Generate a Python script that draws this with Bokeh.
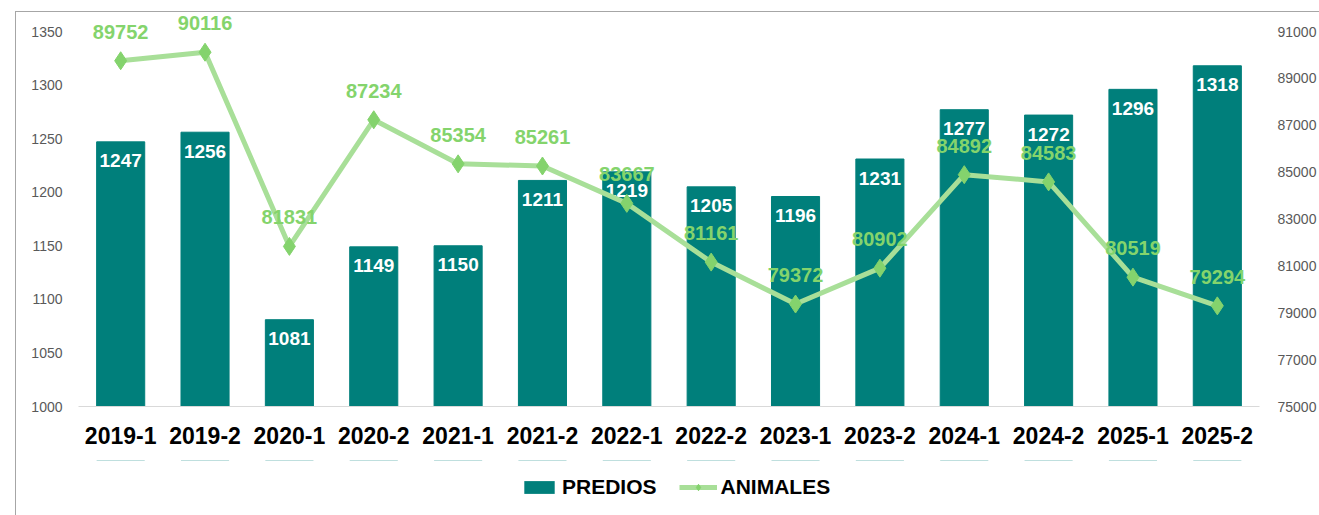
from bokeh.plotting import figure
from bokeh.layouts import column
from bokeh.models import (Range1d, LinearAxis, FixedTicker, Legend, LegendItem,
                          FactorRange, ColumnDataSource, InlineStyleSheet)
from bokeh.core.properties import value
from bokeh.embed import file_html
from bokeh.resources import INLINE

periodos = ["2019-1", "2019-2", "2020-1", "2020-2", "2021-1", "2021-2", "2022-1",
            "2022-2", "2023-1", "2023-2", "2024-1", "2024-2", "2025-1", "2025-2"]
predios = [1247, 1256, 1081, 1149, 1150, 1211, 1219, 1205, 1196, 1231, 1277, 1272, 1296, 1318]
animales = [89752, 90116, 81831, 87234, 85354, 85261, 83667, 81161, 79372, 80902,
            84892, 84583, 80519, 79294]
predios_ticks = [1000, 1050, 1100, 1150, 1200, 1250, 1300, 1350]
animales_ticks = [75000, 77000, 79000, 81000, 83000, 85000, 87000, 89000, 91000]

FONT = "Liberation Sans"
BAR = "#007F7B"
LINE = "#A8DF98"
MARK = "#84D36D"
LABEL_G = "#84D46C"

# frame extends 19px above the top tick so that labels near the top are not clipped
TOP_PAD_PX = 19
PX_LEFT = (1350 - 1000) / 375.0
PX_RIGHT = (91000 - 75000) / 375.0

src = ColumnDataSource(dict(
    x=periodos, predios=predios, animales=animales,
    pl=[str(v) for v in predios], al=[str(v) for v in animales]))

xr = FactorRange(*periodos)
p = figure(x_range=xr,
           y_range=Range1d(1000, 1350 + TOP_PAD_PX * PX_LEFT),
           width=1319, height=460, output_backend="svg", toolbar_location=None,
           min_border_left=78, min_border_right=57, min_border_top=12,
           min_border_bottom=54)
p.extra_y_ranges = {"an": Range1d(75000, 91000 + TOP_PAD_PX * PX_RIGHT)}
p.outline_line_color = None
p.xgrid.visible = False
p.ygrid.visible = False

# left axis
ly = p.yaxis[0]
ly.ticker = FixedTicker(ticks=predios_ticks)
ly.axis_line_color = None
ly.major_tick_line_color = None
ly.minor_tick_line_color = None
ly.major_tick_out = 0
ly.major_label_standoff = 16
ly.major_label_text_font = FONT
ly.major_label_text_font_size = "14px"
ly.major_label_text_color = "#595959"

# right axis
ry = LinearAxis(y_range_name="an", ticker=FixedTicker(ticks=animales_ticks))
ry.axis_line_color = None
ry.major_tick_line_color = None
ry.minor_tick_line_color = None
ry.major_tick_out = 0
ry.major_label_standoff = 18
ry.major_label_text_font = FONT
ry.major_label_text_font_size = "14px"
ry.major_label_text_color = "#595959"
p.add_layout(ry, "right")

# x axis
xa = p.xaxis[0]
xa.axis_line_color = "#D9D9D9"
xa.axis_line_width = 1
xa.major_tick_line_color = None
xa.major_tick_out = 0
xa.major_label_standoff = 20
xa.major_label_text_font = FONT
xa.major_label_text_font_size = "23px"
xa.major_label_text_font_style = "bold"
xa.major_label_text_color = "#000000"

p.vbar(x="x", top="predios", bottom=1000, width=0.57, source=src,
       fill_color=BAR, line_color=BAR)
p.text(x="x", y="predios", text="pl", source=src, y_offset=19,
       text_align="center", text_baseline="middle", text_color="white",
       text_font=value(FONT), text_font_size="19px", text_font_style="bold")

p.line(x="x", y="animales", source=src, y_range_name="an",
       line_color=LINE, line_width=5)
p.scatter(x="x", y="animales", source=src, y_range_name="an",
          marker="diamond", size=18, fill_color=MARK, line_color=MARK)
p.text(x="x", y="animales", text="al", source=src, y_range_name="an",
       y_offset=-29, text_align="center", text_baseline="middle",
       text_color=LABEL_G, text_font=value(FONT), text_font_size="20px",
       text_font_style="bold")

# legend strip underneath (series kept out of its view, only the legend shows)
lg = figure(width=1319, height=55, output_backend="svg", toolbar_location=None,
            x_range=xr, y_range=Range1d(0, 1),
            x_axis_location=None, y_axis_location=None,
            min_border_left=78, min_border_right=57, min_border_top=0,
            min_border_bottom=0)
lg.outline_line_color = None
lg.xgrid.visible = False
lg.ygrid.visible = False
lb = lg.vbar(x="x", top="predios", bottom="predios", width=0.57, source=src,
             fill_color=BAR, line_color=None)
ll = lg.line(x="x", y="animales", source=src, line_color=LINE, line_width=5)
lm = lg.scatter(x="x", y="animales", source=src, marker="diamond", size=16,
                fill_color=MARK, line_color=MARK)
legend = Legend(items=[LegendItem(label="PREDIOS", renderers=[lb]),
                       LegendItem(label="ANIMALES", renderers=[ll, lm])],
                location=(442, 16), orientation="horizontal",
                border_line_color=None, background_fill_alpha=0,
                label_text_font=FONT, label_text_font_size="21px",
                label_text_font_style="bold", label_text_color="#000000",
                glyph_width=38, glyph_height=16, spacing=22, label_standoff=4,
                padding=0, margin=0)
lg.add_layout(legend, "center")

layout = column(p, lg, spacing=0)
layout.stylesheets = [InlineStyleSheet(css="""
:host::after {
  content: ''; position: absolute; left: 15px; top: 11px;
  right: 0px; bottom: 0px;
  border-left: 1px solid #A6A6A6; border-top: 1px solid #A6A6A6;
  pointer-events: none; z-index: 10;
}
""")]

open("out.html", "w").write(file_html(layout, INLINE))
